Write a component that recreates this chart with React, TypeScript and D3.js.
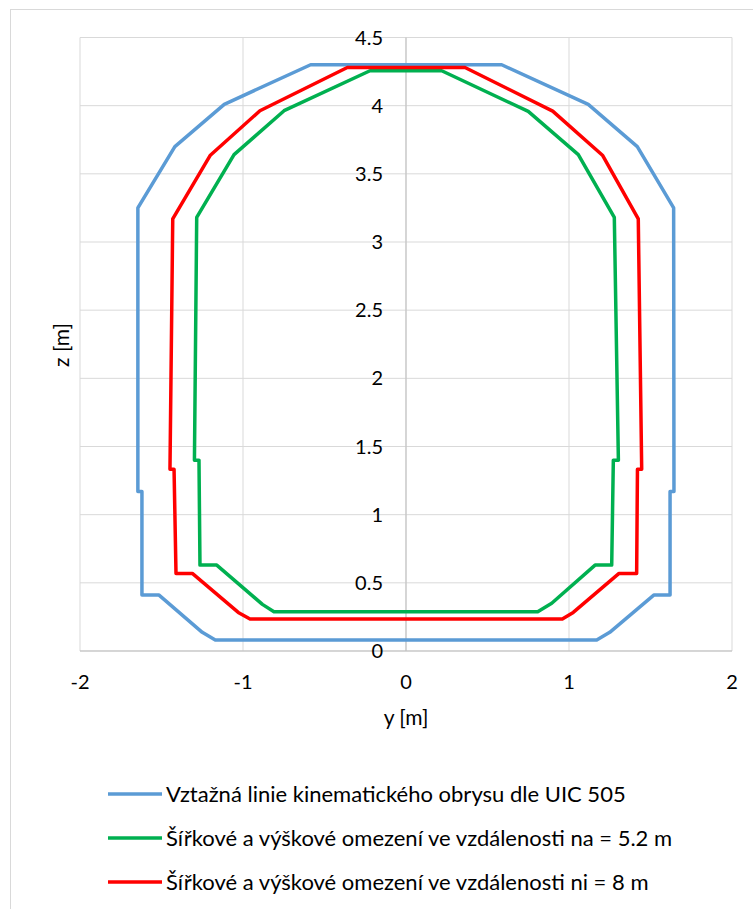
import React from "react";
import * as d3 from "d3";

// reference line of the kinematic gauge (UIC 505)
const blueY = [-1.17, -1.25, -1.515, -1.62, -1.62, -1.645, -1.645, -1.418, -1.115, -0.585, 0.587, 1.118, 1.419, 1.642, 1.644, 1.62, 1.62, 1.52, 1.25, 1.17];
const blueZ = [0.08, 0.137, 0.41, 0.41, 1.17, 1.17, 3.25, 3.7, 4.01, 4.3, 4.3, 4.01, 3.7, 3.25, 1.17, 1.17, 0.41, 0.41, 0.137, 0.08];

// na = 5.2 m
const greenY = [-0.81, -0.881, -1.161, -1.264, -1.27, -1.298, -1.284, -1.055, -0.748, -0.221, 0.219, 0.75, 1.057, 1.278, 1.303, 1.272, 1.262, 1.16, 0.894, 0.808];
const greenZ = [0.288, 0.342, 0.63, 0.63, 1.4, 1.4, 3.18, 3.641, 3.963, 4.256, 4.256, 3.958, 3.641, 3.18, 1.4, 1.4, 0.63, 0.63, 0.35, 0.288];

// ni = 8 m
const redY = [-0.957, -1.029, -1.311, -1.411, -1.423, -1.448, -1.431, -1.202, -0.896, -0.36, 0.362, 0.9, 1.207, 1.425, 1.446, 1.42, 1.415, 1.307, 1.026, 0.959];
const redZ = [0.234, 0.283, 0.569, 0.569, 1.333, 1.333, 3.17, 3.634, 3.963, 4.28, 4.28, 3.96, 3.634, 3.17, 1.333, 1.333, 0.569, 0.569, 0.283, 0.234];

const xTicks = [-2, -1, 0, 1, 2];
const yTicks = [0, 0.5, 1, 1.5, 2, 2.5, 3, 3.5, 4, 4.5];

const seriesNames = [
  "Vztažná linie kinematického obrysu dle UIC 505",
  "Šířkové a výškové omezení ve vzdálenosti na = 5.2 m",
  "Šířkové a výškové omezení ve vzdálenosti ni = 8 m",
];
const seriesColors = ["#5b9bd5", "#00b050", "#ff0000"];

const font = "Lato, 'Open Sans', sans-serif";

export default function App() {
  const width = 753;
  const height = 909;

  const x = d3.scaleLinear().domain([-2, 2]).range([80, 732]);
  const y = d3.scaleLinear().domain([0, 4.5]).range([651, 37.5]);

  const line = d3
    .line<[number, number]>()
    .x((d) => x(d[0]))
    .y((d) => y(d[1]))
    .curve(d3.curveLinearClosed);

  const series = [
    { ys: blueY, zs: blueZ },
    { ys: greenY, zs: greenZ },
    { ys: redY, zs: redZ },
  ];

  return (
    <div style={{ position: "absolute", left: 0, top: 0 }}>
      <svg width={width} height={height} style={{ display: "block", fontFamily: font }}>
        <rect x={0} y={0} width={width} height={height} fill="#fff" />
        {/* chart border */}
        <rect x={10.5} y={9.5} width={800} height={1000} fill="none" stroke="#d9d9d9" />

        {/* grid */}
        {xTicks.map((t) => (
          <line key={"gx" + t} x1={x(t)} x2={x(t)} y1={y(4.5)} y2={y(0)} stroke="#d9d9d9" strokeWidth={1} />
        ))}
        {yTicks.map((t) => (
          <line key={"gy" + t} x1={x(-2)} x2={x(2)} y1={y(t)} y2={y(t)} stroke="#d9d9d9" strokeWidth={1} />
        ))}
        {/* axes */}
        <line x1={x(0)} x2={x(0)} y1={y(4.5)} y2={y(0)} stroke="#bfbfbf" strokeWidth={1} />
        <line x1={x(-2)} x2={x(2)} y1={y(0)} y2={y(0)} stroke="#bfbfbf" strokeWidth={1} />

        {/* series */}
        {series.map((s, i) => (
          <path
            key={i}
            d={line(s.ys.map((v, j) => [v, s.zs[j]] as [number, number])) || ""}
            fill="none"
            stroke={seriesColors[i]}
            strokeWidth={3.5}
            strokeLinejoin="round"
          />
        ))}

        {/* y tick labels */}
        {yTicks.map((t) => (
          <text key={"ly" + t} x={x(0) - 23} y={y(t)} dy="0.35em" textAnchor="end" fontSize={20} fill="#000">
            {t}
          </text>
        ))}
        {/* x tick labels */}
        {xTicks.map((t) => (
          <text key={"lx" + t} x={x(t)} y={682} dy="0.35em" textAnchor="middle" fontSize={20} fill="#000">
            {t}
          </text>
        ))}

        {/* axis titles */}
        <text x={x(0)} y={718} dy="0.35em" textAnchor="middle" fontSize={21} fill="#000">
          y [m]
        </text>
        <text transform="translate(62,345) rotate(-90)" dy="0.35em" textAnchor="middle" fontSize={21} fill="#000">
          z [m]
        </text>

        {/* legend */}
        {seriesNames.map((name, i) => {
          const ly = 794 + i * 44;
          return (
            <g key={"lg" + i}>
              <line x1={108} x2={162} y1={ly} y2={ly} stroke={seriesColors[i]} strokeWidth={3.5} />
              <text x={166} y={ly} dy="0.35em" fontSize={22} fill="#000">
                {name}
              </text>
            </g>
          );
        })}
      </svg>
    </div>
  );
}
